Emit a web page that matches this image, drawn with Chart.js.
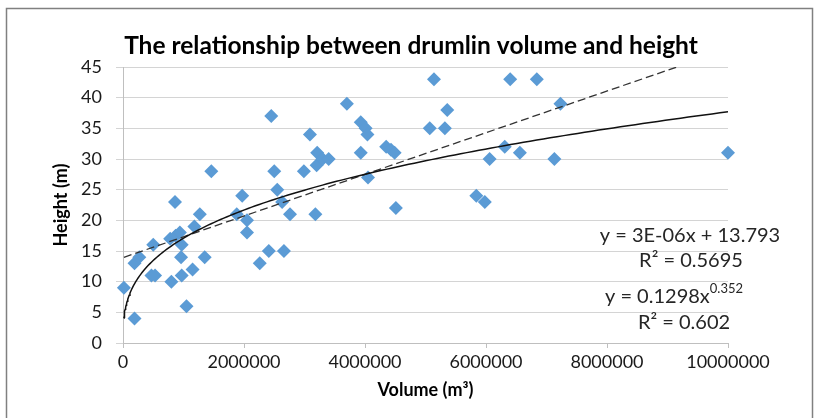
<!DOCTYPE html>
<html>
<head>
<meta charset="utf-8">
<script src="https://cdn.jsdelivr.net/npm/chart.js@4.4.1/dist/chart.umd.min.js"></script>
<style>
  html, body { margin: 0; padding: 0; background: #fff; }
  canvas { display: block; }
</style>
</head>
<body>
<canvas id="myChart" width="818" height="418"></canvas>
<script>
// Drumlin adatok (térfogat m3, magasság m)
const volumes = [
  15000, 190000, 190000, 270000, 500000, 470000, 530000, 800000, 860000, 780000,
  870000, 940000, 970000, 960000, 970000, 1050000, 1150000, 1180000, 1270000, 1350000,
  1460000, 1880000, 1970000, 2050000, 2050000, 2260000, 2410000, 2450000, 2500000, 2550000,
  2630000, 2660000, 2760000, 2990000, 3090000, 3180000, 3210000, 3200000, 3300000, 3400000,
  3700000, 3930000, 4010000, 4040000, 3930000, 4050000, 4350000, 4430000, 4490000, 4510000,
  5070000, 5140000, 5320000, 5360000, 5840000, 5980000, 6060000, 6310000, 6400000, 6560000,
  6840000, 7130000, 7230000, 10000000
];
const heights = [
  9, 4, 13, 14, 16, 11, 11, 10, 23, 17,
  17.5, 18, 16, 14, 11, 6, 12, 19, 21, 14,
  28, 21, 24, 20, 18, 13, 15, 37, 28, 25,
  23, 15, 21, 28, 34, 21, 31, 29, 30, 30,
  39, 36, 35, 34, 31, 27, 32, 31.5, 31, 22,
  35, 43, 35, 38, 24, 23, 30, 32, 43, 31,
  43, 30, 39, 31
];

// Tengelyek
const xMax = 10000000, xStep = 2000000;
const yMax = 45, yStep = 5;

// Feliratok
const chartTitle = 'The relationship between drumlin volume and height';
const linearLabel = ['y = 3E-06x + 13.793', 'R² = 0.5695'];
const powerLabel = ['y = 0.1298x', '0.352', 'R² = 0.602'];

// Lineáris illesztés (legkisebb négyzetek)
function linFit(xs, ys) {
  const n = xs.length;
  let sx = 0, sy = 0, sxx = 0, sxy = 0;
  for (let i = 0; i < n; i++) {
    sx += xs[i]; sy += ys[i]; sxx += xs[i] * xs[i]; sxy += xs[i] * ys[i];
  }
  const slope = (n * sxy - sx * sy) / (n * sxx - sx * sx);
  return { slope, intercept: (sy - slope * sx) / n };
}

// Hatványfüggvény illesztés log-log térben
function powFit(xs, ys) {
  const f = linFit(xs.map(Math.log), ys.map(Math.log));
  return { a: Math.exp(f.intercept), b: f.slope };
}

const points = volumes.map((v, i) => ({ x: v, y: heights[i] }));
const xMinData = Math.min(...volumes), xMaxData = Math.max(...volumes);

const lin = linFit(volumes, heights);
const linLine = [xMinData, xMaxData].map(x => ({ x, y: lin.intercept + lin.slope * x }));

const pw = powFit(volumes, heights);
const powLine = [];
for (let i = 0; i <= 150; i++) {
  const t = i / 150;
  const x = xMinData + (xMaxData - xMinData) * t * t;
  powLine.push({ x, y: pw.a * Math.pow(x, pw.b) });
}

const FONT = 'Lato, "Liberation Sans", sans-serif';
Chart.defaults.font.family = FONT;
Chart.defaults.color = '#1a1a1a';

// Keret, cím és egyenletek rajzolása
const extras = {
  id: 'extras',
  beforeDraw(chart) {
    const ctx = chart.ctx;
    ctx.save();
    ctx.fillStyle = '#fff';
    ctx.fillRect(0, 0, chart.width, chart.height);
    ctx.strokeStyle = '#808080';
    ctx.lineWidth = 1.5;
    ctx.strokeRect(6.5, 8.5, 806, 430);
    ctx.restore();
  },
  afterDraw(chart) {
    const ctx = chart.ctx;
    const a = chart.chartArea;
    ctx.save();
    // cím
    ctx.fillStyle = '#000';
    ctx.textBaseline = 'middle';
    ctx.textAlign = 'center';
    ctx.font = 'bold 24.5px ' + FONT;
    ctx.fillText(chartTitle, chart.width / 2 + 2, 46);

    ctx.fillStyle = '#262626';
    ctx.font = '20px ' + FONT;
    ctx.fillText(linearLabel[0], a.right - 38, 236);
    ctx.fillText(linearLabel[1], a.right - 37, 261);
    // hatvány kitevővel
    ctx.textAlign = 'left';
    const w1 = ctx.measureText(powerLabel[0]).width;
    ctx.font = '13px ' + FONT;
    const w2 = ctx.measureText(powerLabel[1]).width;
    const sx = a.right - 54 - (w1 + w2) / 2;
    ctx.font = '20px ' + FONT;
    ctx.fillText(powerLabel[0], sx, 297);
    ctx.font = '13px ' + FONT;
    ctx.fillText(powerLabel[1], sx + w1, 289);
    ctx.font = '20px ' + FONT;
    ctx.textAlign = 'center';
    ctx.fillText(powerLabel[2], a.right - 44, 323);
    ctx.restore();
  }
};

const ctx = document.getElementById('myChart').getContext('2d');
const myChart = new Chart(ctx, {
  type: 'scatter',
  data: {
    datasets: [
      {
        type: 'line',
        label: 'Power',
        data: powLine,
        borderColor: '#111',
        borderWidth: 1.5,
        pointRadius: 0,
        tension: 0,
        fill: false,
        order: 0
      },
      {
        type: 'line',
        label: 'Linear',
        data: linLine,
        borderColor: '#333',
        borderWidth: 1.3,
        borderDash: [8, 4],
        pointRadius: 0,
        fill: false,
        order: 0
      },
      {
        label: 'Height',
        data: points,
        pointStyle: 'rectRot',
        pointRadius: 7,
        backgroundColor: '#5b9bd5',
        borderColor: '#5b9bd5',
        borderWidth: 0,
        clip: false,
        order: 1
      }
    ]
  },
  options: {
    responsive: false,
    animation: false,
    layout: { padding: { left: 0, right: 90, top: 67, bottom: 0 } },
    plugins: {
      legend: { display: false },
      tooltip: { enabled: false },
      title: { display: false }
    },
    scales: {
      x: {
        type: 'linear',
        min: 0,
        max: xMax,
        ticks: { stepSize: xStep, font: { size: 18 }, padding: 3, callback: v => String(v) },
        grid: { drawOnChartArea: false, drawTicks: true, tickLength: 5, color: '#bfbfbf' },
        border: { color: '#bfbfbf' },
        title: { display: true, text: 'Volume (m³)', font: { size: 18, weight: 'bold' }, color: '#000', padding: { top: 0, bottom: 17 } },
        afterFit: s => { s.height = 75; }
      },
      y: {
        min: 0,
        max: yMax,
        ticks: { stepSize: yStep, font: { size: 18 }, padding: 14 },
        grid: { color: '#d4d4d4', tickLength: 7 },
        border: { color: '#bfbfbf' },
        title: { display: true, text: 'Height (m)', font: { size: 18, weight: 'bold' }, color: '#000', padding: { top: 50, bottom: 0 } },
        afterFit: s => { s.width = 123; }
      }
    }
  },
  plugins: [extras]
});
</script>
</body>
</html>
